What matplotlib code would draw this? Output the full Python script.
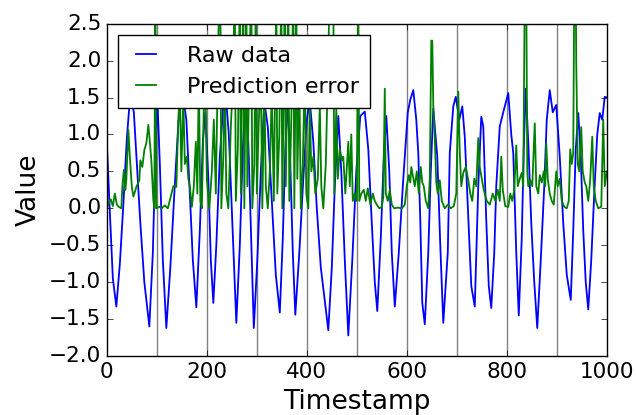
import matplotlib
matplotlib.use("Agg")
import matplotlib.pyplot as plt

# raw signal, read at its turning points and shoulders
raw_t = [0, 5, 12, 19, 26, 33, 40, 47, 54, 60, 67, 75, 85, 92, 97, 101, 106, 112, 119,
         127, 135, 143, 151, 159, 166, 172, 179, 186, 192, 197, 203, 208, 213,
         219, 226, 233, 238, 244, 251, 259, 266, 272, 277, 283, 289, 294,
         301, 308, 315, 322, 330, 338, 346, 352, 357, 362, 367, 372, 377,
         385, 393, 400, 406, 413, 420, 428, 435, 443, 450, 456, 463, 469, 476, 483,
         491, 499, 507, 516, 523, 530, 536, 541, 548, 554, 559, 565, 570, 576,
         584, 593, 602, 607, 613, 619, 623, 627, 631, 636, 643, 648, 653, 661, 667, 673,
         682, 686, 693, 698, 705, 711, 716, 723, 729, 736, 743, 749, 753, 759, 764, 769,
         775, 779, 786, 796, 803, 809, 813, 819, 824, 830, 834, 838, 843, 849, 855, 861,
         868, 875, 880, 886, 892, 899, 906, 913, 920, 928, 933, 938, 943, 948, 953, 958, 963,
         969, 975, 981, 986, 991, 996, 1000]
raw_v = [0.88, 0.1, -0.95, -1.33, -0.75, 0.05, 0.95, 1.55, 1.3, 0.6, -0.2, -1.0, -1.6, -0.6, 0.7, 1.5, 0.6, -0.7, -1.62,
         -0.8, 0.2, 1.15, 1.58, 1.2, 0.2, -0.7, -1.34, -0.3, 0.9, 1.3, 0.4, -0.7, -1.28,
         -0.5, 0.7, 1.4, 1.52, 1.0, -0.2, -1.55, -0.5, 0.8, 1.5, 0.9, -0.5, -1.62,
         -0.7, 0.5, 1.45, 1.1, 0.1, -0.9, -1.41, -0.4, 0.8, 1.45, 0.6, -0.6, -1.44,
         -0.6, 0.4, 1.2, 1.45, 0.9, 0.0, -0.8, -1.2, -1.65, -0.8, 0.3, 1.25, 0.5, -0.7, -1.72,
         -0.7, 0.5, 1.25, 1.31, 0.8, -0.2, -1.0, -1.39, -0.4, 0.7, 1.25, 0.5, -0.6, -1.33,
         -0.6, 0.4, 1.3, 1.47, 1.60, 1.2, 0.75, -0.16, -1.28, -1.57, -0.6, 0.5, 1.35, 0.7, -0.5, -1.55,
         -0.6, 0.75, 1.38, 1.51, 1.2, 1.38, 0.97, -0.1, -1.05, -1.33, 0.3, 1.24, 1.11, -0.16, -1.05, -1.35,
         -0.6, 0.3, 1.11, 1.38, 1.56, 1.0, 0.75, -0.6, -1.45, -0.4, 0.8, 1.62, 0.9, -0.2, -1.0, -1.62,
         -0.7, 0.3, 1.2, 1.60, 1.3, 1.40, 0.7, -0.2, -0.9, -1.24, -0.3, 0.8, 1.29, 0.7, -0.3, -1.0, -1.37,
         -0.7, 0.2, 1.0, 1.29, 1.2, 1.51, 1.5]

# prediction error (spikes above 2.5 run off the top of the axes)
err_t = [0, 4, 8, 12, 16, 20, 24, 29, 31, 34, 37, 39, 43, 46, 50, 53, 56, 59, 65, 67, 71, 75, 79, 83, 86, 89, 93, 95, 97, 99,
         105, 110, 116, 122, 126, 133, 139, 143, 146, 149, 153, 156, 160, 163, 166, 170, 174, 178, 181, 184, 187, 190,
         194, 197, 200, 205, 210, 214, 218, 222, 225, 227, 229, 233, 236, 239, 243, 248, 252, 256, 258,
         262, 266, 268, 273, 275, 279, 281, 285, 289, 291, 295, 298, 300, 304, 308, 311, 315, 318, 322,
         326, 330, 334, 339, 341, 345, 349, 351, 356, 358, 363, 365, 369, 373, 375, 379, 381, 385, 388,
         392, 396, 399, 403, 406, 409, 413, 417, 422, 426, 429, 433, 438, 442, 446, 450, 453, 455, 459,
         462, 466, 470, 473, 477, 483, 486, 489, 492, 496, 500, 503, 505, 509, 514, 518, 522, 527, 532,
         536, 540, 545, 550, 553, 556, 558, 562, 566, 570, 575, 582, 590, 596, 600, 604, 607, 609, 612,
         616, 620, 624, 628, 631, 634, 638, 643, 646, 649, 651, 653, 656, 659, 662, 666, 670, 676, 682,
         688, 694, 699, 703, 706, 709, 713, 718, 723, 727, 731, 735, 739, 743, 746, 750, 754, 760,
         766, 772, 777, 782, 786, 789, 792, 797, 803, 807, 811, 815, 819, 822, 826, 830, 833, 836, 839,
         841, 843, 847, 851, 856, 859, 863, 866, 870, 874, 877, 879, 882, 886, 890, 894, 899, 902, 906,
         910, 915, 920, 924, 927, 930, 933, 935, 938, 939, 942, 945, 949, 952, 956, 959, 963, 967, 971,
         974, 978, 983, 989, 993, 996, 1000]
err_v = [0.0, 0.08, 0.12, 0.03, 0.2, 0.05, 0.02, 0.0, 0.29, 0.52, 0.25, 0.39, 1.06, 0.70, 0.29, 0.16, 0.22, 0.29, 0.38, 0.65, 0.56, 0.79, 0.88, 1.13, 0.9, 0.65, 0.11, 0.0, 3.0, 0.0,
         0.02, 0.0, 0.04, 0.0, 0.11, 0.3, 0.29, 1.2, 1.6, 0.5, 1.5, 0.6, 0.7, 0.4, 0.3, 0.02, 0.3, 0.9, 0.2, 1.8, 0.1, 0.0,
         1.4, 1.7, 0.4, 0.0, 0.5, 1.2, 0.2, 1.9, 3.0, 3.0, 0.0, 0.7, 1.8, 0.2, 0.0, 1.1, 1.7, 3.0, 0.1,
         0.8, 3.0, 0.2, 3.0, 0.0, 3.0, 0.3, 1.9, 3.0, 0.0, 0.6, 3.0, 0.2, 1.2, 1.8, 0.0, 1.7, 0.3, 0.0,
         0.5, 1.6, 0.1, 3.0, 0.2, 1.0, 3.0, 0.0, 3.0, 0.3, 3.0, 0.1, 1.2, 3.0, 0.0, 3.0, 0.4, 1.8, 0.0,
         0.6, 1.9, 0.2, 0.0, 1.4, 0.5, 0.7, 0.2, 0.4, 1.4, 0.3, 0.0, 0.6, 1.8, 3.0, 3.0, 3.0, 0.2, 1.35,
         0.4, 0.8, 0.65, 0.7, 0.2, 0.9, 0.3, 1.0, 0.1, 0.2, 0.1, 3.0, 0.1, 0.2, 0.25, 0.1, 0.27, 0.05, 0.2,
         0.1, 0.05, 0.0, 0.02, 0.15, 1.62, 0.2, 0.1, 0.25, 0.05, 0.0, 0.01, 0.0, 0.05, 0.3, 0.45, 0.35, 0.56, 0.45,
         0.3, 0.5, 0.2, 0.56, 0.35, 0.3, 0.1, 0.0, 0.4, 2.27, 2.27, 1.4, 0.95, 0.35, 0.2, 0.38, 0.1, 0.0, 0.05,
         0.0, 0.03, 0.2, 1.58, 0.75, 0.3, 0.48, 0.56, 0.38, 0.2, 0.1, 0.4, 0.3, 0.95, 0.56, 0.4, 0.25, 0.1,
         0.05, 0.2, 0.1, 0.25, 0.1, 0.70, 0.25, 0.03, 0.02, 0.2, 0.1, 0.25, 0.85, 0.3, 0.4, 0.48, 0.3, 3.0, 3.0,
         0.5, 0.3, 0.38, 0.3, 1.15, 0.3, 0.2, 0.45, 0.35, 0.5, 0.3, 0.88, 0.4, 0.2, 0.1, 0.05, 0.5, 0.3, 0.4,
         0.1, 0.02, 0.0, 0.1, 0.8, 0.6, 0.75, 3.0, 3.0, 1.96, 0.6, 0.5, 1.1, 0.5, 0.35, 0.3, 0.1, 0.4, 0.97,
         0.3, 0.1, 0.0, 0.02, 1.2, 0.3, 0.5]

marks = [100, 200, 300, 400, 500, 600, 700, 800, 900]

plt.style.use("classic")
plt.rcParams["font.family"] = "DejaVu Sans"

fig = plt.figure(figsize=(6.36, 4.15), dpi=100, facecolor="white")
ax = fig.add_axes([0.168, 0.142, 0.786, 0.801])

for m in marks:
    ax.axvline(m, color="0.5", lw=1)

ax.plot(raw_t, raw_v, color="b", lw=1.3, label="Raw data")
ax.plot(err_t, err_v, color="g", lw=1.3, label="Prediction error")

ax.set_xlim(0, 1000)
ax.set_ylim(-2.0, 2.5)
ax.set_xticks([0, 200, 400, 600, 800, 1000])
ax.set_yticks([-2.0, -1.5, -1.0, -0.5, 0.0, 0.5, 1.0, 1.5, 2.0, 2.5])
ax.tick_params(labelsize=15.5)
ax.set_xlabel("Timestamp", fontsize=19)
ax.set_ylabel("Value", fontsize=19)

ax.legend(loc="upper left", fontsize=16, borderpad=0.5,
          handlelength=1.5, handletextpad=1.1)

fig.savefig("out.png", dpi=100, facecolor="white")
